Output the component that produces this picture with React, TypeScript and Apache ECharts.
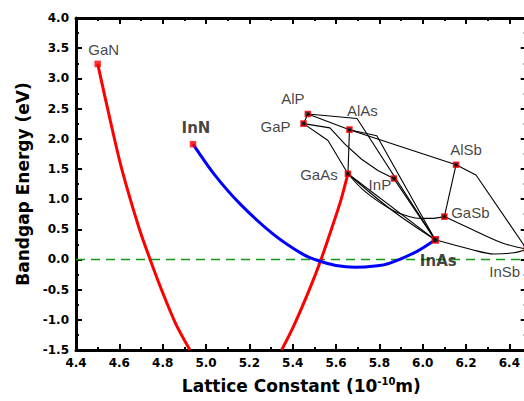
import React, { useEffect, useRef } from "react";
import * as echarts from "echarts";

// ---- axis ranges / ticks ----
const xMin = 4.4;
const xMax = 6.48;
const yMin = -1.5;
const yMax = 4.0;

// ---- binary compounds ----
const binaryNames = ["GaN", "InN", "AlP", "GaP", "AlAs", "GaAs", "InP", "AlSb", "GaSb", "InAs", "InSb"];
const binaryLattice = [4.5, 4.94, 5.47, 5.45, 5.662, 5.655, 5.867, 6.154, 6.1, 6.058, 6.48];
const binaryGap = [3.24, 1.91, 2.41, 2.25, 2.15, 1.42, 1.34, 1.57, 0.71, 0.325, 0.17];

// ---- GaNAs (red) ----
const ganAsLeft = [[4.5, 3.24], [4.557, 2.32], [4.611, 1.5], [4.691, 0.52], [4.742, 0.0], [4.8, -0.55], [4.861, -1.07], [4.926, -1.5]];
const ganAsRight = [[5.349, -1.5], [5.405, -1.1], [5.477, -0.5], [5.531, 0.0], [5.588, 0.6], [5.624, 1.0], [5.655, 1.42]];

// ---- InNAs (blue) ----
const inNAs = [[4.94, 1.91], [5.04, 1.4], [5.157, 0.92], [5.31, 0.42], [5.45, 0.08], [5.526, -0.03], [5.6, -0.1], [5.687, -0.13], [5.78, -0.11], [5.849, -0.06], [5.972, 0.13], [6.058, 0.325]];

// ---- ternary lines (black) ----
const alGaP = [[5.47, 2.41], [5.45, 2.25]];
const alPAs = [[5.47, 2.41], [5.662, 2.15]];
const alPInAs = [[5.47, 2.41], [5.697, 2.336], [6.058, 0.325]];
const gaInP = [[5.45, 2.25], [5.572, 2.18], [5.641, 1.91], [5.718, 1.66], [5.795, 1.47], [5.867, 1.34]];
const gaAsP = [[5.45, 2.25], [5.563, 1.97], [5.655, 1.42]];
const alGaAs = [[5.662, 2.15], [5.655, 1.42]];
const alInAs = [[5.662, 2.15], [5.788, 2.05], [6.058, 0.325]];
const alAsSb = [[5.662, 2.15], [6.154, 1.57]];
const inAsP = [[5.867, 1.34], [6.058, 0.325]];
const gaInAs = [[5.655, 1.42], [5.86, 0.81], [6.058, 0.325]];
const gaInAs2 = [[5.655, 1.42], [6.058, 0.325]];
const gaAsSb = [[5.655, 1.42], [5.72, 1.17], [5.8, 0.95], [5.87, 0.8], [5.93, 0.72], [5.99, 0.68], [6.04, 0.68], [6.1, 0.71]];
const alGaSb = [[6.154, 1.57], [6.1, 0.71]];
const alInSb = [[6.154, 1.57], [6.246, 1.4], [6.48, 0.17]];
const gaInSb = [[6.1, 0.71], [6.25, 0.46], [6.37, 0.27], [6.48, 0.17]];
const inAsSb = [[6.058, 0.325], [6.22, 0.17], [6.33, 0.09], [6.42, 0.11], [6.48, 0.17]];

const straightLines = [alGaP, alPAs, alPInAs, gaAsP, alGaAs, alInAs, alAsSb, inAsP, gaInAs2, alGaSb, alInSb, gaInP];
const curvedLines = [gaInAs, gaAsSb, gaInSb, inAsSb];

// label placement (px offsets from marker centre)
const labelOffsets: Record<string, number[]> = {
  GaN: [6, -14], InN: [3, -16], AlP: [-15, -15], GaP: [-28, 3], AlAs: [13, -19],
  GaAs: [-29, 1], InP: [-14, 6], AlSb: [10, -15], GaSb: [26, -4], InAs: [3, 21], InSb: [-22, 22],
};
const boldLabels = ["InN", "InAs"];
const plainRed = ["GaN", "InN"];

export default function App() {
  const ref = useRef<HTMLDivElement>(null);
  useEffect(() => {
    if (!ref.current) return;
    const chart = echarts.init(ref.current, null, { renderer: "svg" });
    const tickLabel = {
      color: "#000", fontFamily: "DejaVu Sans", fontWeight: "bold", fontSize: 12,
    };
    const majorX = (pos: string, labels: boolean) => ({
      type: "value", min: xMin, max: xMax, interval: 0.2, position: pos,
      axisLine: { show: true, onZero: false, lineStyle: { color: "#000", width: 3 } },
      axisTick: { show: true, inside: true, length: 6, lineStyle: { color: "#000", width: 2 } },
      splitLine: { show: false },
      axisLabel: labels
        ? { show: true, margin: 7, ...tickLabel, showMaxLabel: false, formatter: (v: number) => v.toFixed(1) }
        : { show: false },
    });
    const minorX = (pos: string) => ({
      type: "value", min: xMin, max: xMax, interval: 0.1, position: pos,
      axisLine: { show: false, onZero: false },
      axisTick: { show: true, inside: true, length: 3, lineStyle: { color: "#000", width: 2 } },
      splitLine: { show: false }, axisLabel: { show: false },
    });
    const majorY = (pos: string, labels: boolean) => ({
      type: "value", min: yMin, max: yMax, interval: 0.5, position: pos,
      axisLine: { show: true, onZero: false, lineStyle: { color: "#000", width: 3 } },
      axisTick: { show: true, inside: true, length: 6, lineStyle: { color: "#000", width: 2 } },
      splitLine: { show: false },
      axisLabel: labels
        ? { show: true, margin: 7, ...tickLabel, formatter: (v: number) => v.toFixed(1) }
        : { show: false },
    });
    const minorY = (pos: string) => ({
      type: "value", min: yMin, max: yMax, interval: 0.25, position: pos,
      axisLine: { show: false, onZero: false },
      axisTick: { show: true, inside: true, length: 3, lineStyle: { color: "#000", width: 2 } },
      splitLine: { show: false }, axisLabel: { show: false },
    });

    const xBottom: any = majorX("bottom", true);
    xBottom.name = "Lattice Constant (10{sup|-10}m)";
    xBottom.nameLocation = "middle";
    xBottom.nameGap = 26;
    xBottom.nameTextStyle = {
      color: "#000", fontFamily: "DejaVu Sans", fontWeight: "bold", fontSize: 17, lineHeight: 20,
      rich: { sup: { fontFamily: "DejaVu Sans", fontWeight: "bold", fontSize: 10, lineHeight: 20, verticalAlign: "top", color: "#000" } },
    };
    const yLeft: any = majorY("left", true);
    yLeft.name = "Bandgap Energy (eV)";
    yLeft.nameLocation = "middle";
    yLeft.nameRotate = 90;
    yLeft.nameGap = 43;
    yLeft.nameTextStyle = { color: "#000", fontFamily: "DejaVu Sans", fontWeight: "bold", fontSize: 17 };

    const black = (data: number[][], smooth: number | boolean) => ({
      type: "line", data, xAxisIndex: 0, yAxisIndex: 0, showSymbol: false, smooth,
      lineStyle: { color: "#000", width: 1.1 }, z: 3, silent: true,
    });

    const markers = binaryNames.map((n, i) => {
      const red = plainRed.includes(n);
      return {
        name: n,
        value: [binaryLattice[i], binaryGap[i]],
        symbolSize: red ? 6.5 : n === "InAs" ? 6 : 5,
        itemStyle: red
          ? { color: "#ff0000", borderWidth: 0 }
          : { color: "#000", borderColor: "#ff0000", borderWidth: 1.6 },
        label: {
          show: true, formatter: n, position: "inside", offset: labelOffsets[n],
          align: "center", verticalAlign: "middle",
          fontFamily: boldLabels.includes(n) ? "DejaVu Sans" : "Liberation Sans",
          fontWeight: boldLabels.includes(n) ? "bold" : "normal",
          fontSize: 15,
          color: "#111",
        },
      };
    });

    chart.setOption({
      animation: false,
      grid: { left: 76, top: 18, width: 450.7, height: 335, containLabel: false },
      xAxis: [xBottom, minorX("bottom"), majorX("top", false), minorX("top")],
      yAxis: [yLeft, minorY("left"), majorY("right", false), minorY("right")],
      series: [
        {
          type: "line", data: [[xMin, 0], [xMax, 0]], showSymbol: false, silent: true, z: 1,
          lineStyle: { color: "#119911", width: 1.5, type: [9, 6] },
        },
        ...straightLines.map((d) => black(d, false)),
        ...curvedLines.map((d) => black(d, 0.35)),
        { type: "line", data: ganAsLeft, showSymbol: false, smooth: 0.3, lineStyle: { color: "#ff0000", width: 3 }, z: 4, silent: true },
        { type: "line", data: ganAsRight, showSymbol: false, smooth: 0.3, lineStyle: { color: "#ff0000", width: 3 }, z: 4, silent: true },
        { type: "line", data: inNAs, showSymbol: false, smooth: 0.3, lineStyle: { color: "#0000ff", width: 3 }, z: 4, silent: true },
        { type: "scatter", symbol: "rect", data: markers, z: 6, silent: true },
      ],
    });
    return () => chart.dispose();
  }, []);
  return (
    <div
      ref={ref}
      style={{ position: "fixed", left: 0, top: 0, width: 560, height: 401, background: "#fff" }}
    />
  );
}
